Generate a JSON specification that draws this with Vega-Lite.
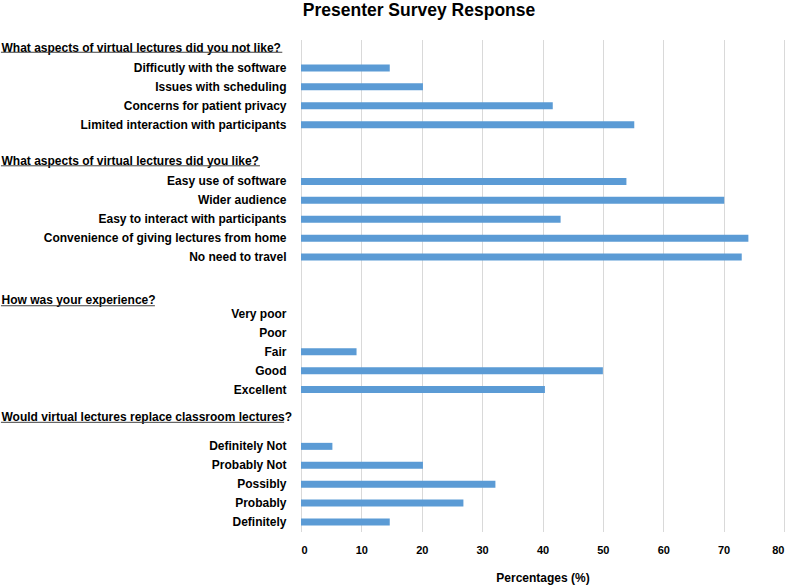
{
  "$schema": "https://vega.github.io/schema/vega-lite/v6.json",
  "autosize": {"type": "none"},
  "padding": {"left": 301, "top": 39.5, "right": 6, "bottom": 53.5},
  "width": 483,
  "height": 492,
  "config": {
    "view": {"stroke": null},
    "font": "Liberation Sans"
  },
  "title": {
    "text": "Presenter Survey Response",
    "font": "Liberation Sans",
    "fontSize": 17.5,
    "fontWeight": "bold",
    "color": "#000000",
    "anchor": "middle",
    "frame": "group",
    "dx": -123.5,
    "baseline": "alphabetic",
    "offset": 6
  },
  "data": {
    "values": [
      {"label": "What aspects of virtual lectures did you not like?", "value": null},
      {"label": "Difficutly with the software", "value": 14.7},
      {"label": "Issues with scheduling", "value": 20.2},
      {"label": "Concerns  for patient privacy", "value": 41.7},
      {"label": "Limited interaction with participants", "value": 55.2},
      {"label": " ", "value": null},
      {"label": "What aspects of virtual lectures did you like?", "value": null},
      {"label": "Easy use of software", "value": 53.9},
      {"label": "Wider audience", "value": 70.1},
      {"label": "Easy to interact with participants", "value": 43.0},
      {"label": "Convenience of giving lectures from home", "value": 74.1},
      {"label": "No need to travel", "value": 73.0},
      {"label": "  ", "value": null},
      {"label": "How was your experience?", "value": null},
      {"label": "Very poor", "value": 0},
      {"label": "Poor", "value": 0},
      {"label": "Fair", "value": 9.2},
      {"label": "Good", "value": 50.0},
      {"label": "Excellent", "value": 40.4},
      {"label": "Would virtual lectures replace classroom lectures?", "value": null},
      {"label": "   ", "value": null},
      {"label": "Definitely Not", "value": 5.2},
      {"label": "Probably  Not", "value": 20.2},
      {"label": "Possibly", "value": 32.2},
      {"label": "Probably", "value": 26.9},
      {"label": "Definitely", "value": 14.7}
    ]
  },
  "encoding": {
    "y": {
      "field": "label",
      "type": "nominal",
      "sort": null,
      "scale": {
        "domain": [
          "What aspects of virtual lectures did you not like?",
          "Difficutly with the software",
          "Issues with scheduling",
          "Concerns  for patient privacy",
          "Limited interaction with participants",
          " ",
          "What aspects of virtual lectures did you like?",
          "Easy use of software",
          "Wider audience",
          "Easy to interact with participants",
          "Convenience of giving lectures from home",
          "No need to travel",
          "  ",
          "How was your experience?",
          "Very poor",
          "Poor",
          "Fair",
          "Good",
          "Excellent",
          "Would virtual lectures replace classroom lectures?",
          "   ",
          "Definitely Not",
          "Probably  Not",
          "Possibly",
          "Probably",
          "Definitely"
        ],
        "paddingInner": 0,
        "paddingOuter": 0
      },
      "axis": {
        "title": null,
        "domain": false,
        "ticks": false,
        "tickSize": 0,
        "grid": false,
        "labelFont": "Liberation Sans",
        "labelFontSize": 12,
        "labelFontWeight": "bold",
        "labelColor": "#000000",
        "labelLimit": 400,
        "labelAlign": {
          "condition": {"test": "indexof(datum.value, 'What aspects') === 0 || datum.value === 'How was your experience?' || datum.value === 'Would virtual lectures replace classroom lectures?'", "value": "left"},
          "value": "right"
        },
        "labelPadding": {
          "condition": {"test": "indexof(datum.value, 'What aspects') === 0 || datum.value === 'How was your experience?' || datum.value === 'Would virtual lectures replace classroom lectures?'", "value": 300},
          "value": 15
        },
        "labelOffset": {
          "condition": [
            {"test": "datum.value === 'How was your experience?'", "value": 5},
            {"test": "datum.value === 'Would virtual lectures replace classroom lectures?'", "value": 8},
            {"test": "indexof(datum.value, 'What aspects') === 0", "value": -1.3}
          ],
          "value": 0
        }
      }
    }
  },
  "layer": [
    {
      "mark": {"type": "bar", "size": 7, "color": "#5B9BD5"},
      "encoding": {
        "x": {
          "field": "value",
          "type": "quantitative",
          "scale": {"domain": [0, 80], "nice": false},
          "axis": {
            "title": "Percentages (%)",
            "values": [0, 10, 20, 30, 40, 50, 60, 70, 80],
            "domain": false,
            "ticks": false,
            "tickSize": 0,
            "grid": true,
            "gridColor": "#d9d9d9",
            "gridWidth": 1,
            "labelFont": "Liberation Sans",
            "labelFontSize": 11,
            "labelFontWeight": "bold",
            "labelColor": "#000000",
            "labelPadding": 13,
            "titleFont": "Liberation Sans",
            "titleFontSize": 12,
            "titleFontWeight": "bold",
            "titleColor": "#000000",
            "titlePadding": 17
          }
        }
      }
    },
    {
      "data": {"values": [{}]},
      "mark": {"type": "rule", "color": "#404040", "strokeWidth": 1, "yOffset": 3.3},
      "encoding": {
        "x": {"datum": -49.7, "type": "quantitative"},
        "x2": {"datum": -3.1},
        "y": {"datum": "What aspects of virtual lectures did you not like?", "type": "nominal"}
      }
    },
    {
      "data": {"values": [{}]},
      "mark": {"type": "rule", "color": "#404040", "strokeWidth": 1, "yOffset": 3.3},
      "encoding": {
        "x": {"datum": -49.7, "type": "quantitative"},
        "x2": {"datum": -6.8},
        "y": {"datum": "What aspects of virtual lectures did you like?", "type": "nominal"}
      }
    },
    {
      "data": {"values": [{}]},
      "mark": {"type": "rule", "color": "#404040", "strokeWidth": 1, "yOffset": 10.8},
      "encoding": {
        "x": {"datum": -49.7, "type": "quantitative"},
        "x2": {"datum": -24.2},
        "y": {"datum": "How was your experience?", "type": "nominal"}
      }
    },
    {
      "data": {"values": [{}]},
      "mark": {"type": "rule", "color": "#404040", "strokeWidth": 1, "yOffset": 13.8},
      "encoding": {
        "x": {"datum": -49.7, "type": "quantitative"},
        "x2": {"datum": -2.8},
        "y": {"datum": "Would virtual lectures replace classroom lectures?", "type": "nominal"}
      }
    }
  ]
}
